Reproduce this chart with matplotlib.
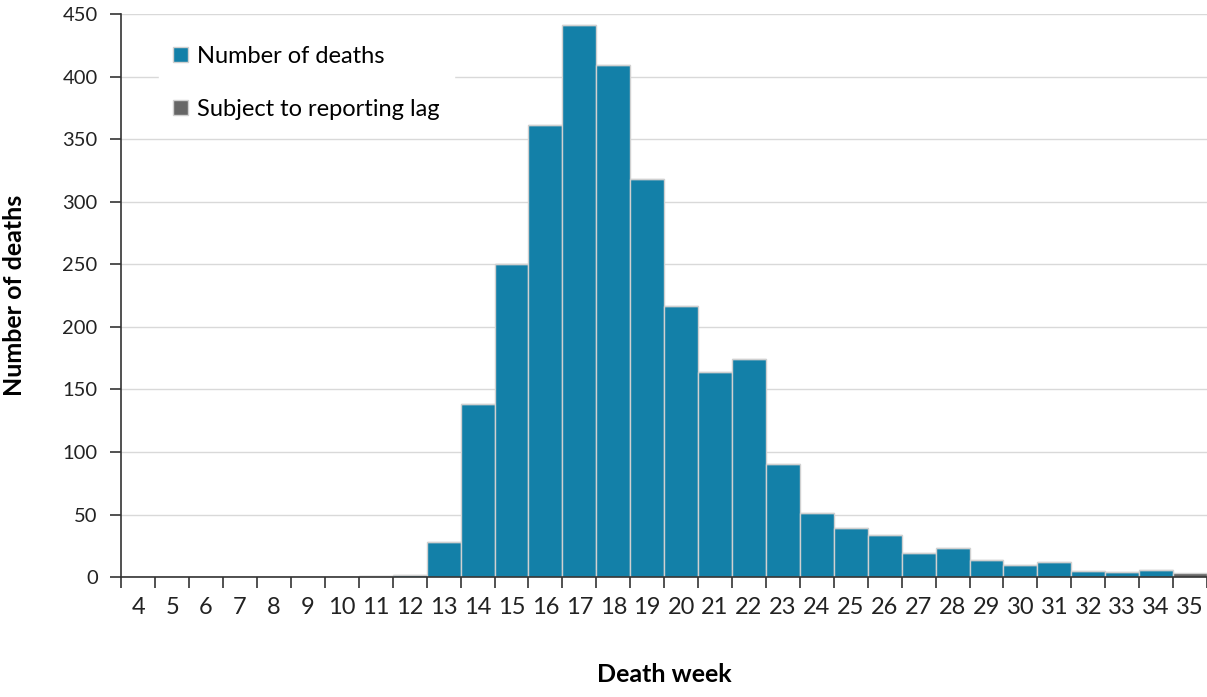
import matplotlib

matplotlib.use("Agg")
import matplotlib.pyplot as plt  # noqa: E402

# 週ごとの死亡数
WEEKS = list(range(4, 36))
DEATHS = [0, 0, 0, 0, 0, 0, 0, 1, 2, 28, 138, 250, 361, 441, 409, 318, 217,
          164, 174, 90, 51, 39, 34, 19, 23, 14, 10, 12, 5, 4, 6, 0]
LAG = [0] * 31 + [3]

BLUE = "#1380A8"
GREY = "#666666"

plt.rcParams.update({
    "font.family": ["Lato", "DejaVu Sans"],
})

fig = plt.figure(figsize=(12.07, 6.97), dpi=100)
ax = fig.add_axes([0.1005, 0.172, 0.8995, 0.808])

ax.bar(WEEKS, DEATHS, 1.0, color=BLUE, edgecolor="#D0D0D0", linewidth=1.0,
       label="Number of deaths", zorder=3)
ax.bar(WEEKS, LAG, 1.0, bottom=DEATHS, color=GREY, edgecolor="#D0D0D0",
       linewidth=1.0, label="Subject to reporting lag", zorder=3)

ax.set_xlim(3.5, 35.5)
ax.set_ylim(0, 450)
ax.set_yticks(range(0, 451, 50))
ax.set_xticks([w - 0.5 for w in WEEKS] + [35.5])
ax.set_xticklabels([])
ax.set_xticks(WEEKS, [str(w) for w in WEEKS], minor=True)
ax.tick_params(axis="x", which="major", direction="out", length=8, width=1.2,
               color="#333333")
ax.tick_params(axis="x", which="minor", length=0, pad=14, labelsize=17,
               labelcolor="#222222")
ax.tick_params(axis="y", direction="out", length=8, width=1.2, color="#333333",
               labelsize=14.5, labelcolor="#222222", pad=9)

ax.grid(axis="y", color="#D9D9D9", linewidth=1.0, zorder=0)
ax.set_axisbelow(True)
for side in ("top", "right"):
    ax.spines[side].set_visible(False)
for side in ("left", "bottom"):
    ax.spines[side].set_color("#333333")
    ax.spines[side].set_linewidth(1.2)
    ax.spines[side].set_zorder(4)

ax.set_xlabel("Death week", fontsize=18, fontweight="bold", labelpad=33)
ax.set_ylabel("Number of deaths", fontsize=18, fontweight="bold", labelpad=26)

leg = ax.legend(loc="upper left", bbox_to_anchor=(0.024, 0.99), fontsize=17,
                handlelength=0.62, handleheight=0.62, handletextpad=0.4,
                labelspacing=1.38, borderpad=0.6, frameon=True, fancybox=False,
                framealpha=1.0)
leg.get_frame().set_facecolor("white")
leg.get_frame().set_edgecolor("white")

fig.savefig("out.png", dpi=100)
